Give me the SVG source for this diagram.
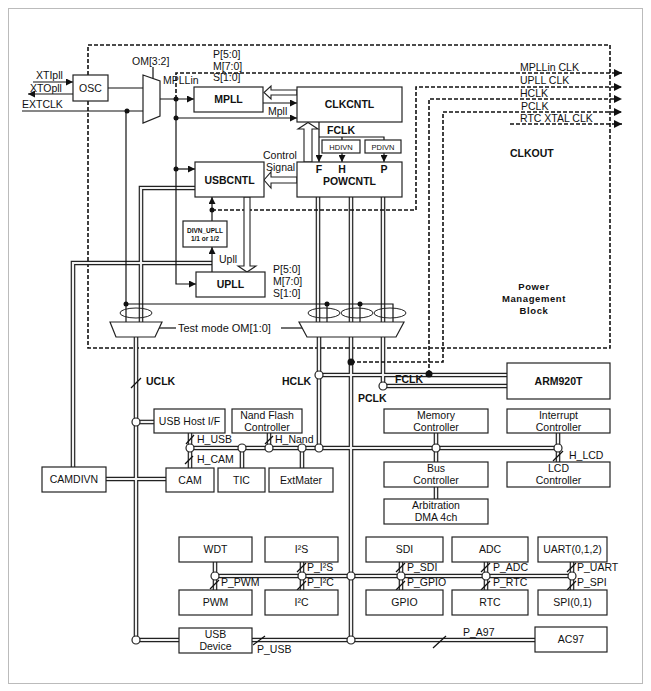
<svg xmlns="http://www.w3.org/2000/svg" xmlns:xlink="http://www.w3.org/1999/xlink" width="651" height="691" viewBox="0 0 651 691">
<style>
text{font-family:"Liberation Sans",Arial,sans-serif;font-size:10.5px;fill:#111}
.b{font-weight:bold}
.c{text-anchor:middle}
.s{font-size:7.5px}
.xs{font-size:6.5px;font-weight:bold}
.box{fill:#fff;stroke:#222;stroke-width:1.2}
.ln{fill:none;stroke:#111;stroke-width:1.2}
.dash{fill:none;stroke:#111;stroke-width:1.6;stroke-dasharray:4 2}
.hol{fill:#fff;stroke:#222;stroke-width:1.1}
.jc{fill:#fff;stroke:#222;stroke-width:1.2}
.dot{fill:#111}
.ell{fill:none;stroke:#222;stroke-width:1}
</style>
<defs>
<marker id="ah" viewBox="0 0 10 10" refX="10" refY="5" markerWidth="8" markerHeight="7" markerUnits="userSpaceOnUse" orient="auto"><path d="M0,0 L10,5 L0,10 z" fill="#111"/></marker>
<marker id="ahb" viewBox="0 0 10 10" refX="10" refY="5" markerWidth="9" markerHeight="8" markerUnits="userSpaceOnUse" orient="auto"><path d="M0,0 L10,5 L0,10 z" fill="#111"/></marker>
<g id="buses">
<path d="M195,188 H141 V322"/>
<path d="M136,337 V640 H179"/>
<path d="M136,422 H154"/>
<path d="M318,197 V322 M351,197 V322 M383,197 V322"/>
<path d="M319,337 V448 M351,337 V640 M383,337 V386 H507 M319,375 H507"/>
<path d="M73,467 V263 H212"/>
<path d="M106,479 H166"/>
<path d="M190,448 H558 M190,433 V468 M242,448 V468 M269,433 V448 M302,448 V468 M436,433 V462 M436,487 V499 M558,433 V462"/>
<path d="M215,576 H572 M215,562 V590 M302,562 V590 M401,562 V590 M486,562 V590 M572,562 V590"/>
<path d="M252,640 H535"/>
</g>
</defs>
<rect x="0" y="0" width="651" height="691" fill="#fff"/>
<rect x="8.5" y="8.5" width="634" height="675" fill="none" stroke="#bbb" stroke-width="1"/>

<!-- dashed frames -->
<g id="frames">
<rect x="88" y="45" width="522" height="303" class="dash"/>
</g>

<!-- connectors -->
<g id="connectors">
<use xlink:href="#buses" href="#buses" fill="none" stroke="#222" stroke-width="4.6"/>
<use xlink:href="#buses" href="#buses" fill="none" stroke="#f2f2f2" stroke-width="2.2"/>

<line x1="33" y1="82" x2="73" y2="82" class="ln" marker-end="url(#ah)"/>
<line x1="73" y1="94" x2="28" y2="94" class="ln" marker-end="url(#ah)"/>
<line x1="22" y1="111" x2="143" y2="111" class="ln"/>
<line x1="108" y1="88" x2="143" y2="88" class="ln"/>
<line x1="153" y1="67" x2="153" y2="79" class="ln"/>
<line x1="160" y1="99" x2="194" y2="99" class="ln" marker-end="url(#ah)"/>
<path d="M176,99 V284 H196" class="ln" marker-end="url(#ah)"/>
<line x1="176" y1="118" x2="297" y2="118" class="ln" marker-end="url(#ah)"/>
<line x1="263" y1="103" x2="297" y2="103" class="ln" marker-end="url(#ah)"/>
<line x1="176" y1="169" x2="195" y2="169" class="ln" marker-end="url(#ah)"/>
<path d="M319,122 V162" class="ln" marker-end="url(#ah)"/>
<path d="M319,137 H384 V140 M342,137 V140" class="ln"/>
<line x1="342" y1="153" x2="342" y2="162" class="ln" marker-end="url(#ah)"/>
<line x1="384" y1="153" x2="384" y2="162" class="ln" marker-end="url(#ah)"/>
<line x1="212" y1="272" x2="212" y2="247" class="ln" marker-end="url(#ah)"/>
<line x1="212" y1="221" x2="212" y2="197" class="ln" marker-end="url(#ah)"/>
<path d="M126,111 V322" class="ln"/>
<path d="M126,304 H393 V322 M327,304 V322 M360,304 V322" class="ln"/>
<line x1="158" y1="328" x2="176" y2="328" class="ln"/>
<line x1="281" y1="328" x2="303" y2="328" class="ln"/>

<path d="M176,99 V73 H622" class="dash" marker-end="url(#ahb)"/>
<path d="M212,210 H416 V87 H622" class="dash" marker-end="url(#ahb)"/>
<path d="M429,374 V99 H622" class="dash" marker-end="url(#ahb)"/>
<path d="M351,362 H443 V112 H622" class="dash" marker-end="url(#ahb)"/>
<path d="M510,124 H622" class="dash" marker-end="url(#ahb)"/>

<polygon points="297,90 271,90 271,86 264,92.5 271,99 271,95 297,95" class="hol"/>
<polygon points="297,177 271,177 271,172 264,180 271,188 271,183 297,183" class="hol"/>
<polygon points="304,162 304,129 298,129 308,122.5 318,129 312,129 312,162" class="hol"/>
<polygon points="244,197 244,266 238,266 247,272 256,266 250,266 250,197" class="hol"/>

<ellipse cx="136" cy="313" rx="16" ry="5" class="ell"/>
<ellipse cx="324" cy="313" rx="16" ry="5" class="ell"/>
<ellipse cx="357" cy="313" rx="16" ry="5" class="ell"/>
<ellipse cx="390" cy="313" rx="16" ry="5" class="ell"/>

<g class="ln">
<line x1="131" y1="388" x2="141" y2="378"/>
<line x1="186" y1="444" x2="194" y2="435"/>
<line x1="185" y1="464" x2="193" y2="456"/>
<line x1="265" y1="444" x2="273" y2="436"/>
<line x1="553" y1="461" x2="563" y2="451"/>
<line x1="210" y1="589" x2="219" y2="580"/>
<line x1="297" y1="572" x2="306" y2="563"/>
<line x1="297" y1="590" x2="306" y2="581"/>
<line x1="396" y1="572" x2="405" y2="563"/>
<line x1="396" y1="590" x2="405" y2="581"/>
<line x1="481" y1="572" x2="490" y2="563"/>
<line x1="481" y1="590" x2="490" y2="581"/>
<line x1="567" y1="572" x2="576" y2="563"/>
<line x1="567" y1="590" x2="576" y2="581"/>
<line x1="253" y1="645" x2="265" y2="636"/>
<line x1="433" y1="648" x2="446" y2="636"/>
</g>

<g class="jc">
<circle cx="136" cy="422" r="4"/><circle cx="136" cy="640" r="4"/>
<circle cx="190" cy="448" r="4"/><circle cx="242" cy="448" r="4"/><circle cx="269" cy="448" r="4"/><circle cx="302" cy="448" r="4"/><circle cx="319" cy="448" r="4"/><circle cx="436" cy="448" r="4"/><circle cx="558" cy="448" r="4"/>
<circle cx="319" cy="375" r="4"/><circle cx="383" cy="386" r="4"/>
<circle cx="215" cy="576" r="4"/><circle cx="302" cy="576" r="4"/><circle cx="351" cy="576" r="4"/><circle cx="401" cy="576" r="4"/><circle cx="486" cy="576" r="4"/><circle cx="572" cy="576" r="4"/>
<circle cx="351" cy="640" r="4"/>
</g>
<g class="dot">
<circle cx="127" cy="111" r="2.5"/><circle cx="176" cy="99" r="2.5"/><circle cx="176" cy="118" r="2.5"/><circle cx="176" cy="169" r="2.5"/>
<circle cx="212" cy="210" r="2.5"/><circle cx="126" cy="304" r="2.5"/><circle cx="327" cy="304" r="2.5"/><circle cx="360" cy="304" r="2.5"/>
<circle cx="351" cy="362" r="3.5"/><circle cx="429" cy="374" r="3.5"/>
</g>
</g>

<!-- nodes -->
<g id="osc"><rect x="73" y="75" width="35" height="26" class="box"/><text x="90.5" y="92" class="c">OSC</text></g>
<g id="mux-om32"><polygon points="143,75 160,81 160,116 143,123" class="box"/></g>
<g id="mpll"><rect x="194" y="87" width="69" height="25" class="box"/><text x="228.5" y="103" class="c b">MPLL</text></g>
<g id="clkcntl"><rect x="297" y="87" width="105" height="35" class="box"/><text x="349.5" y="108" class="c b">CLKCNTL</text></g>
<g id="hdivn"><rect x="322" y="140" width="38" height="13" class="box"/><text x="341" y="150" class="c s">HDIVN</text></g>
<g id="pdivn"><rect x="365" y="140" width="36" height="13" class="box"/><text x="383" y="150" class="c s">PDIVN</text></g>
<g id="powcntl"><rect x="297" y="162" width="105" height="35" class="box"/>
<text x="319" y="173" class="c b">F</text><text x="342" y="173" class="c b">H</text><text x="384" y="173" class="c b">P</text>
<text x="349.5" y="185" class="c b">POWCNTL</text></g>
<g id="usbcntl"><rect x="195" y="162" width="69" height="35" class="box"/><text x="229.5" y="184" class="c b">USBCNTL</text></g>
<g id="divn-upll"><rect x="183" y="221" width="44" height="26" class="box"/><text x="205" y="233" class="c xs">DIVN_UPLL</text><text x="205" y="241" class="c xs">1/1 or 1/2</text></g>
<g id="upll"><rect x="196" y="272" width="69" height="25" class="box"/><text x="230.5" y="288" class="c b">UPLL</text></g>
<g id="mux-left"><polygon points="110,322 162,322 155,337 116,337" class="box"/></g>
<g id="mux-right"><polygon points="299,322 404,322 396,337 307,337" class="box"/></g>
<g id="arm920t"><rect x="507" y="363" width="103" height="36" class="box"/><text x="558.5" y="385" class="c b">ARM920T</text></g>
<g id="usbhost"><rect x="154" y="409" width="71" height="24" class="box"/><text x="189.5" y="425" class="c">USB Host I/F</text></g>
<g id="nand"><rect x="232" y="409" width="70" height="24" class="box"/><text x="267" y="419" class="c">Nand Flash</text><text x="267" y="431" class="c">Controller</text></g>
<g id="memctl"><rect x="384" y="409" width="104" height="24" class="box"/><text x="436" y="419" class="c">Memory</text><text x="436" y="431" class="c">Controller</text></g>
<g id="intctl"><rect x="507" y="409" width="103" height="24" class="box"/><text x="558.5" y="419" class="c">Interrupt</text><text x="558.5" y="431" class="c">Controller</text></g>
<g id="busctl"><rect x="384" y="462" width="104" height="25" class="box"/><text x="436" y="472" class="c">Bus</text><text x="436" y="484" class="c">Controller</text></g>
<g id="lcdctl"><rect x="507" y="462" width="103" height="25" class="box"/><text x="558.5" y="472" class="c">LCD</text><text x="558.5" y="484" class="c">Controller</text></g>
<g id="arb"><rect x="384" y="499" width="104" height="25" class="box"/><text x="436" y="509" class="c">Arbitration</text><text x="436" y="521" class="c">DMA 4ch</text></g>
<g id="camdivn"><rect x="42" y="467" width="64" height="25" class="box"/><text x="74" y="483" class="c">CAMDIVN</text></g>
<g id="cam"><rect x="166" y="468" width="48" height="24" class="box"/><text x="190" y="484" class="c">CAM</text></g>
<g id="tic"><rect x="218" y="468" width="47" height="24" class="box"/><text x="241.5" y="484" class="c">TIC</text></g>
<g id="extmater"><rect x="269" y="468" width="64" height="24" class="box"/><text x="301" y="484" class="c">ExtMater</text></g>
<g id="wdt"><rect x="179" y="537" width="73" height="25" class="box"/><text x="215.5" y="553" class="c">WDT</text></g>
<g id="i2s"><rect x="265" y="537" width="73" height="25" class="box"/><text x="301.5" y="553" class="c">I²S</text></g>
<g id="sdi"><rect x="366" y="537" width="77" height="25" class="box"/><text x="404.5" y="553" class="c">SDI</text></g>
<g id="adc"><rect x="452" y="537" width="76" height="25" class="box"/><text x="490" y="553" class="c">ADC</text></g>
<g id="uart"><rect x="538" y="537" width="69" height="25" class="box"/><text x="572.5" y="553" class="c">UART(0,1,2)</text></g>
<g id="pwm"><rect x="179" y="590" width="73" height="25" class="box"/><text x="215.5" y="606" class="c">PWM</text></g>
<g id="i2c"><rect x="265" y="590" width="73" height="25" class="box"/><text x="301.5" y="606" class="c">I²C</text></g>
<g id="gpio"><rect x="366" y="590" width="77" height="25" class="box"/><text x="404.5" y="606" class="c">GPIO</text></g>
<g id="rtc"><rect x="452" y="590" width="76" height="25" class="box"/><text x="490" y="606" class="c">RTC</text></g>
<g id="spi"><rect x="538" y="590" width="69" height="25" class="box"/><text x="572.5" y="606" class="c">SPI(0,1)</text></g>
<g id="usbdev"><rect x="179" y="628" width="73" height="25" class="box"/><text x="215.5" y="638" class="c">USB</text><text x="215.5" y="650" class="c">Device</text></g>
<g id="ac97"><rect x="535" y="627" width="72" height="25" class="box"/><text x="571" y="643" class="c">AC97</text></g>

<!-- labels -->
<g id="labels">
<text x="36" y="79">XTIpll</text>
<text x="30" y="92">XTOpll</text>
<text x="22" y="108">EXTCLK</text>
<text x="132" y="65">OM[3:2]</text>
<text x="163" y="84">MPLLin</text>
<text x="213" y="58">P[5:0]</text><text x="213" y="70">M[7:0]</text><text x="213" y="81">S[1:0]</text>
<text x="268" y="115">Mpll</text>
<text x="327" y="134" class="b">FCLK</text>
<text x="263" y="159">Control</text><text x="266" y="171">Signal</text>
<text x="219" y="263">Upll</text>
<text x="273" y="273">P[5:0]</text><text x="273" y="285">M[7:0]</text><text x="273" y="297">S[1:0]</text>
<text x="178" y="332" style="font-size:11px">Test mode OM[1:0]</text>
<text x="520" y="71">MPLLin CLK</text>
<text x="520" y="84">UPLL CLK</text>
<text x="520" y="97">HCLK</text>
<text x="521" y="110">PCLK</text>
<text x="520" y="122">RTC XTAL CLK</text>
<text x="510" y="157" class="b">CLKOUT</text>
<text x="534" y="290" class="c b" style="font-size:9.5px;letter-spacing:0.6px">Power</text>
<text x="534" y="302" class="c b" style="font-size:9.5px;letter-spacing:0.6px">Management</text>
<text x="534" y="314" class="c b" style="font-size:9.5px;letter-spacing:0.6px">Block</text>
<text x="146" y="385" class="b">UCLK</text>
<text x="282" y="385" class="b">HCLK</text>
<text x="395" y="383" class="b">FCLK</text>
<text x="358" y="402" class="b">PCLK</text>
<text x="197" y="443">H_USB</text>
<text x="197" y="463">H_CAM</text>
<text x="275" y="443">H_Nand</text>
<text x="569" y="459">H_LCD</text>
<text x="221" y="586">P_PWM</text>
<text x="307" y="571">P_I²S</text><text x="307" y="586">P_I²C</text>
<text x="407" y="571">P_SDI</text><text x="407" y="586">P_GPIO</text>
<text x="493" y="571">P_ADC</text><text x="493" y="586">P_RTC</text>
<text x="577" y="571">P_UART</text><text x="577" y="586">P_SPI</text>
<text x="257" y="653">P_USB</text>
<text x="463" y="636">P_A97</text>
</g>
</svg>
